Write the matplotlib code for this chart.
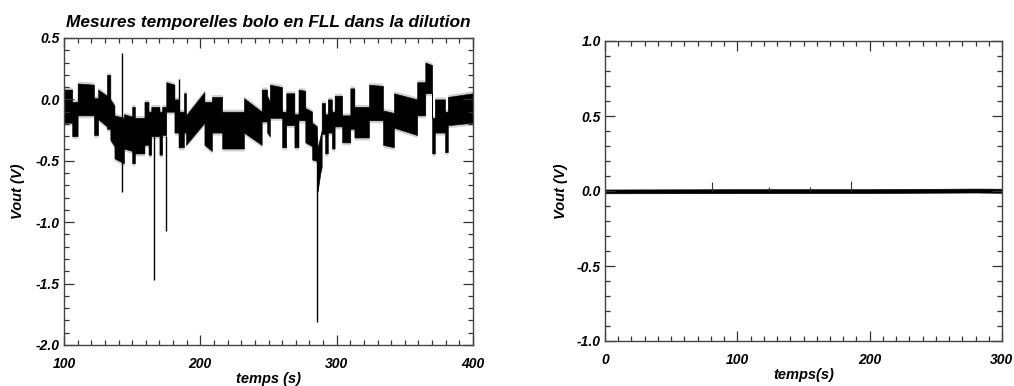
import matplotlib
matplotlib.use("Agg")
import matplotlib.pyplot as plt
from matplotlib.ticker import MultipleLocator, FormatStrFormatter

# ---------------- data ----------------
# Left panel: envelope of the dense FLL signal (vertices; repeated times = jumps)
t_left = [100, 106, 106, 110, 110, 122, 122, 125, 125, 131.5, 131.5, 134, 134, 137, 137, 144,
          144, 150, 150, 152, 152, 159, 159, 162, 162, 164, 164, 170, 170, 172, 172, 175,
          175, 181, 181, 184, 184, 188, 188, 189.5, 189.5, 203, 203, 208.5, 208.5, 216,
          216, 232, 232, 245, 245, 249, 249, 251, 251, 260, 260, 263, 263, 269, 269, 272,
          272, 277, 277, 282, 282, 285.5, 286, 288, 289, 289, 291.5, 291.5, 293.5, 293.5,
          296.5, 296.5, 298.5, 298.5, 304, 304, 310, 310, 313, 313, 323.7, 323.7, 334, 334,
          342, 342, 359, 359, 365, 365, 370, 370, 372, 372, 379.5, 379.5, 381.5, 381.5, 400]
upper_left = [0.08, 0.08, -0.02, -0.02, 0.13, 0.12, 0.01, 0.01, 0.08, 0.03, 0.20, 0.20, 0.0, -0.05,
              -0.13, -0.15, -0.12, -0.14, -0.06, -0.06, -0.15, -0.15, -0.02, -0.02, -0.10, -0.10,
              -0.06, -0.06, -0.10, -0.10, -0.06, -0.06, 0.14, 0.12, 0.0, 0.0, -0.10, -0.10, 0.05,
              0.05, -0.13, 0.06, -0.02, -0.02, 0.02, 0.02, -0.10, -0.10, 0.01, -0.10, 0.08, 0.08,
              0.03, -0.02, 0.12, 0.10, -0.10, -0.10, 0.05, 0.05, -0.12, -0.12, 0.08, 0.07, -0.07,
              -0.10, -0.19, -0.22, -0.40, -0.30, -0.25, -0.03, -0.03, -0.12, -0.12, 0.0, 0.0,
              -0.10, -0.10, 0.03, 0.03, -0.13, -0.13, 0.09, 0.09, -0.06, -0.06, 0.12, 0.11, -0.09,
              -0.11, 0.05, 0.0, 0.14, 0.14, 0.30, 0.28, -0.15, -0.15, 0.0, 0.0, -0.10, -0.10, 0.02, 0.05]
lower_left = [-0.19, -0.19, -0.30, -0.30, -0.13, -0.13, -0.29, -0.29, -0.16, -0.22, -0.24, -0.24,
              -0.33, -0.38, -0.48, -0.52, -0.40, -0.42, -0.52, -0.52, -0.44, -0.44, -0.37, -0.37,
              -0.45, -0.45, -0.30, -0.30, -0.45, -0.45, -0.29, -0.29, -0.10, -0.10, -0.27, -0.27,
              -0.39, -0.39, -0.27, -0.27, -0.37, -0.19, -0.37, -0.42, -0.27, -0.27, -0.40, -0.40,
              -0.27, -0.37, -0.18, -0.18, -0.27, -0.30, -0.15, -0.15, -0.39, -0.39, -0.21, -0.21,
              -0.39, -0.39, -0.17, -0.17, -0.35, -0.38, -0.49, -0.50, -0.75, -0.60, -0.55, -0.28,
              -0.28, -0.44, -0.44, -0.27, -0.27, -0.40, -0.40, -0.22, -0.22, -0.35, -0.35, -0.24,
              -0.24, -0.31, -0.31, -0.17, -0.17, -0.37, -0.39, -0.23, -0.29, -0.13, -0.13, 0.05,
              0.05, -0.44, -0.44, -0.27, -0.27, -0.43, -0.43, -0.21, -0.19]
# isolated glitches (time, low, high)
spike_t = [142.5, 166.0, 174.6, 184.1, 285.6]
spike_lo = [-0.75, -1.47, -1.07, -0.10, -1.81]
spike_hi = [0.38, -0.30, -0.30, 0.17, -0.45]

# Right panel: flat signal around 0 V
t_right = [0, 100, 200, 280, 300]
upper_right = [0.010, 0.012, 0.012, 0.016, 0.015]
lower_right = [-0.015, -0.014, -0.013, -0.010, -0.012]
rspike_t = [80.9, 124.0, 155.0, 186.2]
rspike_hi = [0.062, 0.030, 0.025, 0.065]

# ---------------- figure ----------------
W, H = 1014, 386
fig = plt.figure(figsize=(W / 100, H / 100), dpi=100)
fig.patch.set_facecolor("white")

FONT = "Liberation Sans"
fkw = dict(family=FONT, weight="bold", style="italic")


def style_axes(ax, xmaj, xmin, ymaj, ymin):
    ax.xaxis.set_major_locator(MultipleLocator(xmaj))
    ax.xaxis.set_minor_locator(MultipleLocator(xmin))
    ax.yaxis.set_major_locator(MultipleLocator(ymaj))
    ax.yaxis.set_minor_locator(MultipleLocator(ymin))
    ax.tick_params(which="both", direction="in", top=True, right=True, colors="#333333",
                   labelcolor="black", width=0.9)
    ax.tick_params(which="major", length=7)
    ax.tick_params(which="minor", length=3.5)
    ax.tick_params(axis="x", which="major", pad=9)
    ax.tick_params(axis="y", which="major", pad=3)
    for s in ax.spines.values():
        s.set_color("#444444")
        s.set_linewidth(1.0)
    for lab in ax.get_xticklabels() + ax.get_yticklabels():
        lab.set_fontfamily(FONT)
        lab.set_fontweight("bold")
        lab.set_fontstyle("italic")
        lab.set_fontsize(10)
    ax.yaxis.set_major_formatter(FormatStrFormatter("%.1f"))


# Left panel
ax1 = fig.add_axes([64 / W, (H - 345) / H, 409 / W, 307 / H])
ax1.fill_between(t_left, [u + 0.02 for u in upper_left], [l - 0.02 for l in lower_left],
                 color="#999999", alpha=0.45, linewidth=0)
ax1.fill_between(t_left, upper_left, lower_left, color="black", linewidth=0.4, edgecolor="black")
ax1.vlines(spike_t, spike_lo, spike_hi, colors="black", linewidth=1.0)
ax1.set_xlim(100, 400)
ax1.set_ylim(-2.0, 0.5)
style_axes(ax1, 100, 10, 0.5, 0.1)
ax1.set_xlabel("temps (s)", fontsize=10.5, labelpad=0, **fkw)
ax1.set_ylabel("Vout (V)", fontsize=10.5, labelpad=8, **fkw)
ax1.set_title("Mesures temporelles bolo en FLL dans la dilution", fontsize=12.4, pad=8, **fkw)

# Right panel
ax2 = fig.add_axes([605 / W, (H - 341) / H, 397 / W, 300 / H])
ax2.fill_between(t_right, upper_right, lower_right, color="black", linewidth=0.5, edgecolor="black")
ax2.vlines(rspike_t, 0, rspike_hi, colors="#333333", linewidth=0.8)
ax2.set_xlim(0, 300)
ax2.set_ylim(-1.0, 1.0)
style_axes(ax2, 100, 10, 0.5, 0.1)
ax2.set_xlabel("temps(s)", fontsize=10.5, labelpad=0, **fkw)
ax2.set_ylabel("Vout (V)", fontsize=10.5, labelpad=6, **fkw)

fig.savefig("out.png", dpi=100, facecolor="white")
